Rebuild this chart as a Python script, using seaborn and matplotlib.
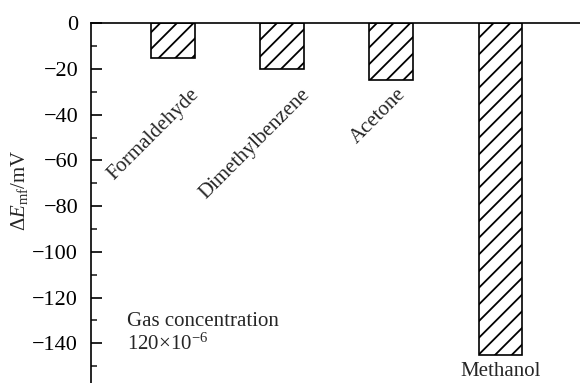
import matplotlib
matplotlib.use("Agg")
import matplotlib.pyplot as plt
import seaborn as sns
import pandas as pd
from matplotlib.ticker import MultipleLocator

# ---- data ----
gases = ["Formaldehyde", "Dimethylbenzene", "Acetone", "Methanol"]
delta_e = [-15, -20, -25, -145]
yticks = [0, -20, -40, -60, -80, -100, -120, -140]
note_lines = ["Gas concentration", "120×10$^{-6}$"]

# ---- layout (label offsets in category units) ----
label_dx = [0.27, 0.29, 0.17]

df = pd.DataFrame({"gas": gases, "dE": delta_e})

sns.set_style("ticks")
plt.rcParams["font.family"] = ["Liberation Serif", "DejaVu Serif"]
plt.rcParams["mathtext.fontset"] = "custom"
plt.rcParams["mathtext.rm"] = "Liberation Serif"
plt.rcParams["mathtext.it"] = "Liberation Serif:italic"
plt.rcParams["hatch.linewidth"] = 1.3
plt.rcParams["axes.unicode_minus"] = True

fig = plt.figure(figsize=(5.8, 3.83), dpi=100)
ax = fig.add_axes([90.7 / 580, 0.0, (580 - 90.7) / 580, 1 - 23.3 / 383])

sns.barplot(data=df, x="gas", y="dE", order=gases, width=0.4,
            color="white", edgecolor="black", linewidth=1.2,
            hatch="//", ax=ax, errorbar=None)

ax.set_xlim(-0.755, 3.73)
ax.set_ylim(-157.4, 0)
ax.set_yticks(yticks)
ax.set_yticklabels([f"{v}".replace("-", "\u2212") for v in yticks])
ax.yaxis.set_minor_locator(MultipleLocator(10))
ax.tick_params(axis="y", which="major", direction="in", length=8, width=1.2,
               labelsize=16, pad=9, colors="black")
ax.tick_params(axis="y", which="minor", direction="in", length=4, width=1.2)
ax.set_xticks([])
ax.set_xlabel("")
ax.set_ylabel(r"$\Delta E_{\mathrm{mf}}$/mV", fontsize=15)
ax.yaxis.set_label_coords(-0.125, 0.537)

for side in ["bottom", "right"]:
    ax.spines[side].set_visible(False)
for side in ["top", "left"]:
    ax.spines[side].set_linewidth(1.2)
    ax.spines[side].set_color("black")

# category labels
for i, name in enumerate(gases[:3]):
    ax.text(i + label_dx[i], -27.0, name, rotation=45, ha="right", va="top",
            fontsize=15)
ax.text(3, -148.3, gases[3], ha="center", va="top", fontsize=15)

ax.text(-0.42, -126.5, note_lines[0] + "\n" + note_lines[1], ha="left",
        va="top", fontsize=15, linespacing=1.12)

fig.savefig("out.png", dpi=100)
